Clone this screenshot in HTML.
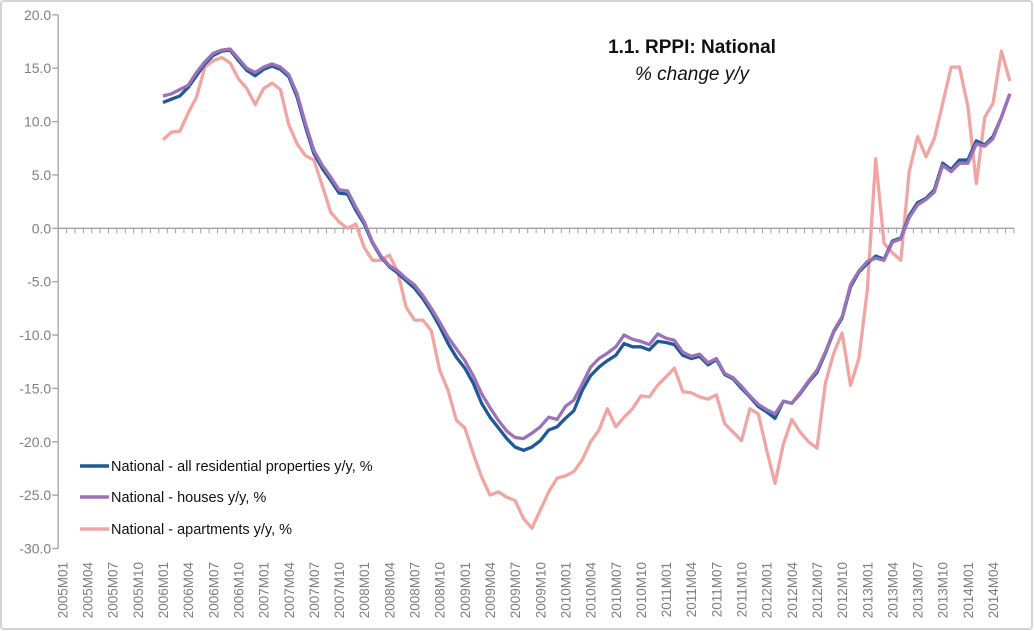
<!DOCTYPE html>
<html><head><meta charset="utf-8"><style>
html,body{margin:0;padding:0;background:#fff;}
svg{display:block;font-family:"Liberation Sans",sans-serif;}
</style></head><body>
<svg id="chart" width="1034" height="631" viewBox="0 0 1034 631" xmlns="http://www.w3.org/2000/svg">
<rect x="1" y="1" width="1031" height="628" rx="3" fill="#fff" stroke="#d4d4d4" stroke-width="2"/>
<g id="axes"></g>
<g id="series"></g>
<text x="692" y="53" text-anchor="middle" font-size="19" font-weight="bold" fill="#111">1.1. RPPI: National</text>
<text x="692" y="80" text-anchor="middle" font-size="19" font-style="italic" fill="#111">% change y/y</text>
<g>
 <g><line x1="80" y1="466" x2="109" y2="466" stroke="#1f5a96" stroke-width="3.5"/><text x="111" y="471" font-size="14.5" fill="#111">National - all residential properties y/y, %</text></g>
 <g><line x1="80" y1="497" x2="109" y2="497" stroke="#9b72b8" stroke-width="3.5"/><text x="111" y="502" font-size="14.5" fill="#111">National - houses y/y, %</text></g>
 <g><line x1="80" y1="529" x2="109" y2="529" stroke="#f0a5a3" stroke-width="3.5"/><text x="111" y="534" font-size="14.5" fill="#111">National - apartments y/y, %</text></g>
</g>
</svg>
<script>
const yTicks = [20,15,10,5,0,-5,-10,-15,-20,-25,-30];
const startYear = 2005, nCats = 114, dataStart = 12;
const allRes = [11.8,12.1,12.4,13.2,14.3,15.4,16.2,16.6,16.7,15.7,14.8,14.3,14.9,15.2,14.9,14.2,12.3,9.5,7.0,5.6,4.5,3.3,3.2,1.7,0.4,-1.4,-2.7,-3.6,-4.2,-4.9,-5.6,-6.6,-7.8,-9.2,-10.8,-12.1,-13.1,-14.5,-16.4,-17.7,-18.7,-19.7,-20.5,-20.8,-20.5,-19.9,-18.9,-18.6,-17.8,-17.1,-15.2,-13.8,-13.0,-12.4,-11.9,-10.8,-11.1,-11.1,-11.4,-10.6,-10.7,-10.9,-11.9,-12.2,-12.0,-12.8,-12.3,-13.7,-14.1,-15.0,-15.8,-16.7,-17.2,-17.8,-16.2,-16.4,-15.5,-14.4,-13.5,-11.7,-9.7,-8.4,-5.5,-4.1,-3.3,-2.6,-2.9,-1.2,-0.9,1.2,2.4,2.8,3.6,6.1,5.5,6.4,6.4,8.2,7.8,8.6,10.4,12.6];
const houses = [12.4,12.6,13.0,13.4,14.6,15.6,16.4,16.7,16.8,15.9,15.0,14.6,15.1,15.4,15.1,14.4,12.6,9.8,7.3,5.9,4.8,3.6,3.5,2.0,0.6,-1.3,-2.6,-3.5,-4.0,-4.7,-5.3,-6.3,-7.5,-8.8,-10.2,-11.3,-12.4,-13.8,-15.5,-16.8,-18.0,-19.0,-19.6,-19.7,-19.2,-18.6,-17.7,-17.9,-16.7,-16.1,-14.6,-13.0,-12.2,-11.7,-11.1,-10.0,-10.4,-10.6,-10.9,-9.9,-10.3,-10.5,-11.6,-12.0,-11.8,-12.6,-12.2,-13.6,-14.0,-14.8,-15.7,-16.5,-17.0,-17.4,-16.2,-16.4,-15.4,-14.3,-13.3,-11.6,-9.6,-8.3,-5.3,-4.0,-3.1,-2.8,-3.0,-1.3,-1.0,1.0,2.2,2.7,3.4,5.9,5.3,6.1,6.1,7.9,7.7,8.4,10.4,12.6];
const apartments = [8.3,9.0,9.1,10.8,12.3,15.1,15.7,16.0,15.5,14.0,13.1,11.6,13.1,13.6,13.0,9.7,7.9,6.8,6.4,4.0,1.5,0.6,0.0,0.4,-1.8,-3.0,-3.0,-2.5,-4.1,-7.4,-8.6,-8.6,-9.6,-13.3,-15.2,-18.0,-18.7,-21.1,-23.3,-25.0,-24.7,-25.2,-25.5,-27.2,-28.1,-26.4,-24.7,-23.4,-23.2,-22.8,-21.7,-20.0,-18.9,-16.9,-18.6,-17.7,-16.9,-15.7,-15.8,-14.7,-13.9,-13.1,-15.3,-15.4,-15.8,-16.0,-15.6,-18.3,-19.1,-19.9,-16.9,-17.4,-20.8,-23.9,-20.2,-17.9,-19.1,-20.0,-20.6,-14.5,-11.7,-9.8,-14.7,-12.2,-5.8,6.5,-1.4,-2.3,-3.0,5.3,8.6,6.7,8.4,11.7,15.1,15.1,11.4,4.2,10.4,11.7,16.6,13.8];

const NS="http://www.w3.org/2000/svg";
const L=58.2, R=1014, TOP=15, BOT=548.5;
const cw=(R-L)/nCats;
const xC=i=>L+(i+0.5)*cw;
const yS=v=>228.3-v*(BOT-228.3)/30;
const axes=document.getElementById('axes');
const series=document.getElementById('series');
function mk(tag,attrs,parent){const e=document.createElementNS(NS,tag);for(const k in attrs)e.setAttribute(k,attrs[k]);parent.appendChild(e);return e;}

const yAxis=mk('line',{x1:L,y1:TOP,x2:L,y2:BOT,stroke:'#a0a0a0','stroke-width':1.3},axes);


yTicks.forEach(v=>{
  const t=mk('line',{x1:L-6,y1:yS(v),x2:L,y2:yS(v),stroke:'#a0a0a0','stroke-width':1.3},axes);
  
  
  const lb=mk('text',{x:L-7,y:yS(v)+5,'text-anchor':'end','font-size':14,fill:'#7f7f7f'},axes);
  lb.textContent=v.toFixed(1);
  
  
});
const xAxis=mk('line',{x1:L,y1:yS(0),x2:R,y2:yS(0),stroke:'#a0a0a0','stroke-width':1.3},axes);


for(let i=0;i<=nCats;i++){
  const t=mk('line',{x1:L+i*cw,y1:yS(0),x2:L+i*cw,y2:yS(0)+5,stroke:'#a0a0a0','stroke-width':1},axes);
  
  
}
for(let i=0;i<nCats;i+=3){
  const yr=startYear+Math.floor(i/12), m=i%12+1;
  const lbl=yr+'M'+(m<10?'0':'')+m;
  const x=xC(i)+5;
  const lb=mk('text',{x:x,y:562,'text-anchor':'end','font-size':13.5,fill:'#7f7f7f',transform:`rotate(-90 ${x} 562)`},axes);
  lb.textContent=lbl;
  
  
}
function draw(arr,color,name){
  const d=arr.map((v,k)=>(k?'L':'M')+xC(dataStart+k).toFixed(1)+' '+yS(v).toFixed(1)).join(' ');
  const p=mk('path',{d:d,fill:'none',stroke:color,'stroke-width':3.3,'stroke-linejoin':'round'},series);
  
  
}
draw(apartments,'#f0a5a3','line-apartments');
draw(allRes,'#1f5a96','line-all-residential');
draw(houses,'#9b72b8','line-houses');
</script>
</body></html>
